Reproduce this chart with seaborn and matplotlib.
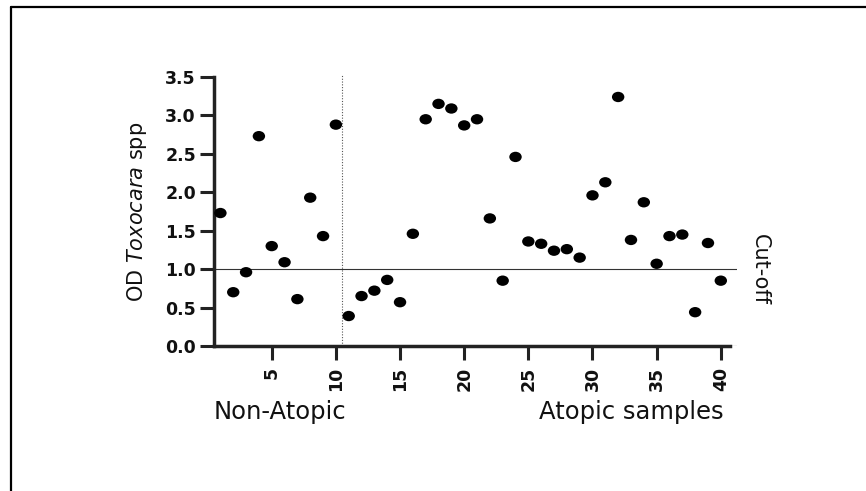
import numpy as np
import pandas as pd
import matplotlib
matplotlib.use("Agg")
import matplotlib.pyplot as plt
import matplotlib.transforms as mtransforms
from matplotlib.path import Path
from matplotlib.lines import Line2D
import seaborn as sns

# Sample numbers and OD values
sample = np.arange(1, 41)
od_toxocara = [1.73, 0.70, 0.96, 2.73, 1.30, 1.09, 0.61, 1.93, 1.43, 2.88,
               0.39, 0.65, 0.72, 0.86, 0.57, 1.46, 2.95, 3.15, 3.09, 2.87,
               2.95, 1.66, 0.85, 2.46, 1.36, 1.33, 1.24, 1.26, 1.15, 1.96,
               2.13, 3.24, 1.38, 1.87, 1.07, 1.43, 1.45, 0.44, 1.34, 0.85]
cutoff = 1.0
group_split = 10.5
y_ticks = [0.0, 0.5, 1.0, 1.5, 2.0, 2.5, 3.0, 3.5]
x_ticks = [5, 10, 15, 20, 25, 30, 35, 40]

df = pd.DataFrame({"Sample": sample, "OD": od_toxocara})

sns.set_theme(style="ticks")
plt.rcParams['font.family'] = ['DejaVu Sans']
plt.rcParams['mathtext.fontset'] = 'dejavusans'
plt.rcParams['text.color'] = '#111111'
plt.rcParams['axes.labelcolor'] = '#111111'
plt.rcParams['xtick.color'] = '#111111'
plt.rcParams['ytick.color'] = '#111111'

fig = plt.figure(figsize=(8.66, 4.91), dpi=100)
ax = fig.add_axes([0.2471, 0.2953, 0.6039, 0.5479])

# slightly wide oval marker like the original
oval = Path.unit_circle().transformed(mtransforms.Affine2D().scale(1.2, 1.0))
sns.scatterplot(data=df, x="Sample", y="OD", marker=oval, s=80, color='black',
                edgecolor='none', ax=ax, zorder=3, clip_on=False)

ax.axhline(cutoff, color='#333333', lw=0.8, zorder=1)
ax.axhline(0, color='#333333', lw=0.8, zorder=1)
ax.vlines(group_split, 0, 3.52, colors='#555555', linestyles=(0, (1, 1.5)), lw=0.8, clip_on=False)

ax.set_xlim(0.5, 41.26)
ax.set_ylim(0, 3.5)
ax.set_xticks(x_ticks)
ax.set_yticks(y_ticks)
ax.set_yticklabels([f"{v:.1f}" for v in y_ticks], fontsize=12.5, fontweight='bold')
ax.set_xticklabels([str(v) for v in x_ticks], fontsize=12.5, fontweight='bold', rotation=90)
ax.tick_params(axis='both', length=10, width=2.2, color='#222222')
ax.tick_params(axis='y', pad=3)
ax.tick_params(axis='x', pad=5)

for side in ['top', 'right']:
    ax.spines[side].set_visible(False)
ax.spines['left'].set_linewidth(2.5)
ax.spines['bottom'].set_linewidth(2.5)
ax.spines['left'].set_color('#222222')
ax.spines['bottom'].set_color('#222222')
ax.spines['bottom'].set_bounds(0.5, 40.7)

ax.set_xlabel("")
ax.set_ylabel(r"OD $\it{Toxocara}$ spp", fontsize=15, labelpad=12)

ax.text(0.0, -0.271, "Non-Atopic", transform=ax.transAxes, fontsize=17.5,
        ha='left', va='baseline')
ax.text(0.975, -0.271, "Atopic samples", transform=ax.transAxes, fontsize=17.5,
        ha='right', va='baseline')
trans = mtransforms.blended_transform_factory(ax.transAxes, ax.transData)
ax.text(1.044, cutoff, "Cut-off", transform=trans, fontsize=15, rotation=-90,
        ha='center', va='center')

# frame around the figure (only top and left edges visible)
fig.add_artist(Line2D([0.0127, 0.0127], [0, 0.9857], transform=fig.transFigure,
                      color='black', lw=1.6))
fig.add_artist(Line2D([0.0127, 1.0], [0.9857, 0.9857], transform=fig.transFigure,
                      color='black', lw=1.6))

fig.savefig("out.png", dpi=100)
